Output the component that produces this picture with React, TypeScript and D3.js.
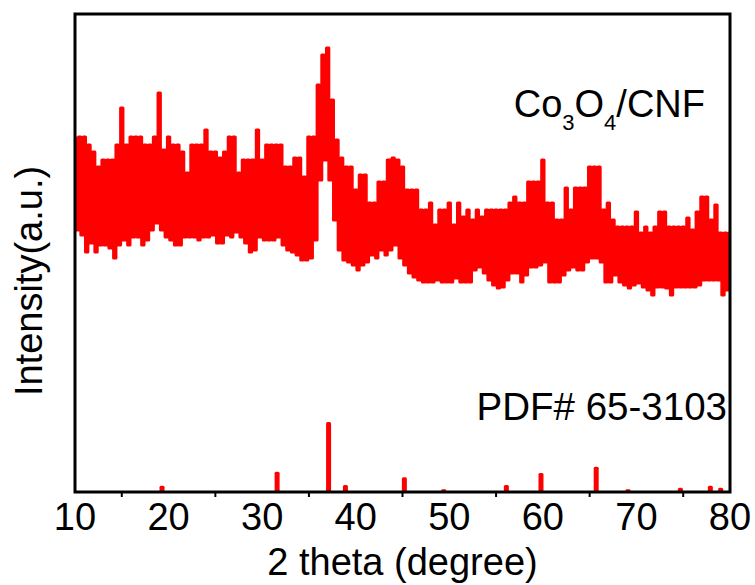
import React from "react";
import * as d3 from "d3";

// 2θ grid: upper values at 10.0, 10.5, ... 80.0; lower values at 10.25, 10.75, ... 79.75
const upperStart = 10;
const lowerStart = 10.25;
const gridStep = 0.5;

const upper = [
  354, 355, 355, 347, 340, 325, 332, 332, 332, 347,
  384, 347, 355, 355, 355, 347, 347, 355, 399, 342,
  355, 347, 347, 340, 319, 347, 347, 347, 362, 340,
  340, 334, 340, 355, 355, 319, 332, 332, 332, 362,
  332, 347, 347, 347, 347, 325, 325, 334, 334, 315,
  355, 355, 407, 437, 444, 392, 352, 334, 325, 325,
  302, 317, 317, 289, 289, 310, 310, 332, 334, 332,
  325, 302, 302, 302, 282, 282, 289, 267, 282, 282,
  289, 267, 289, 275, 282, 272, 282, 275, 282, 282,
  282, 282, 282, 289, 295, 289, 289, 310, 310, 310,
  332, 289, 289, 272, 272, 304, 282, 304, 304, 304,
  325, 325, 325, 282, 289, 272, 265, 265, 265, 265,
  280, 259, 265, 259, 265, 280, 280, 265, 265, 265,
  265, 274, 262, 280, 295, 295, 272, 287, 259, 259,
  259,
];

const lower = [
  262, 257, 240, 249, 240, 247, 247, 244, 234, 247,
  252, 247, 255, 255, 247, 252, 262, 269, 262, 255,
  252, 247, 247, 255, 255, 255, 252, 255, 255, 257,
  249, 249, 257, 255, 260, 255, 249, 240, 242, 255,
  252, 252, 252, 255, 247, 242, 240, 237, 232, 232,
  234, 252, 312, 332, 312, 272, 242, 232, 230, 227,
  222, 227, 230, 237, 234, 242, 237, 242, 247, 234,
  227, 219, 215, 212, 210, 210, 210, 212, 210, 210,
  210, 214, 210, 210, 210, 222, 225, 219, 212, 207,
  204, 205, 212, 219, 219, 210, 217, 225, 225, 227,
  230, 210, 210, 210, 217, 222, 225, 222, 222, 230,
  234, 234, 230, 210, 210, 217, 210, 207, 204, 207,
  209, 205, 202, 197, 205, 205, 204, 197, 205, 205,
  205, 205, 205, 207, 212, 212, 212, 212, 197, 202,
];

// Reference pattern PDF# 65-3103
const pdfPositions = [19.3, 31.6, 37.1, 38.9, 45.2, 49.4, 56.1, 59.8, 65.7, 69.1, 74.7, 77.9, 79.0];
const pdfIntensities = [9, 29, 100, 10, 21, 4, 10, 27, 36, 4, 6, 9, 6];

const xTicks = [10, 20, 30, 40, 50, 60, 70, 80];
const xMinorTicks = [15, 25, 35, 45, 55, 65, 75];

const refLabel = "PDF# 65-3103";
const xTitle = "2 theta (degree)";
const yTitle = "Intensity(a.u.)";

const W = 755;
const H = 585;
const left = 75;
const right = 730;
const top = 14;
const bottom = 492;
const FONT = "'Liberation Sans', Arial, Helvetica, sans-serif";
const RED = "#ff0000";

export default function App() {
  const x = d3.scaleLinear().domain([10, 80]).range([left, right]);
  const y = d3.scaleLinear().domain([0, 478]).range([bottom, top]);
  const yPdf = d3.scaleLinear().domain([0, 100]).range([bottom, bottom - 70]);

  const pts: { t: number; v: number }[] = [];
  upper.forEach((v, i) => {
    pts.push({ t: upperStart + gridStep * i, v });
    if (i < lower.length) pts.push({ t: lowerStart + gridStep * i, v: lower[i] });
  });

  const line = d3
    .line<{ t: number; v: number }>()
    .x((d) => x(d.t))
    .y((d) => y(d.v))
    .curve(d3.curveStep);

  return (
    <svg
      width={W}
      height={H}
      style={{ position: "absolute", left: 0, top: 0, display: "block", background: "#fff" }}
      fontFamily={FONT}
    >
      <rect x={0} y={0} width={W} height={H} fill="#fff" />
      <path d={line(pts) || ""} fill="none" stroke={RED} strokeWidth={3} strokeLinejoin="round" />
      {pdfPositions.map((p, i) => (
        <rect
          key={i}
          x={x(p) - 2.5}
          y={yPdf(pdfIntensities[i])}
          width={5}
          height={bottom - yPdf(pdfIntensities[i])}
          fill={RED}
          rx={1.5}
        />
      ))}
      {/* frame */}
      <rect x={left} y={top} width={right - left} height={bottom - top} fill="none" stroke="#000" strokeWidth={3} />
      {xMinorTicks.map((t) => (
        <line key={t} x1={x(t)} x2={x(t)} y1={bottom} y2={bottom + 5} stroke="#000" strokeWidth={2} />
      ))}
      {xTicks.map((t) => (
        <text key={t} x={x(t)} y={530} textAnchor="middle" fontSize={38} fill="#000">
          {t}
        </text>
      ))}
      <text x={(left + right) / 2} y={575} textAnchor="middle" fontSize={38} fill="#000">
        {xTitle}
      </text>
      <text
        transform={`translate(42, 281) rotate(-90)`}
        textAnchor="middle"
        fontSize={38}
        fill="#000"
      >
        {yTitle}
      </text>
      <text x={705} y={117} textAnchor="end" fontSize={38} fill="#000">
        Co
        <tspan fontSize={22} dy={13}>3</tspan>
        <tspan dy={-13}>O</tspan>
        <tspan fontSize={22} dy={13}>4</tspan>
        <tspan dy={-13}>/CNF</tspan>
      </text>
      <text x={727} y={420} textAnchor="end" fontSize={38.5} fill="#000">
        {refLabel}
      </text>
    </svg>
  );
}
